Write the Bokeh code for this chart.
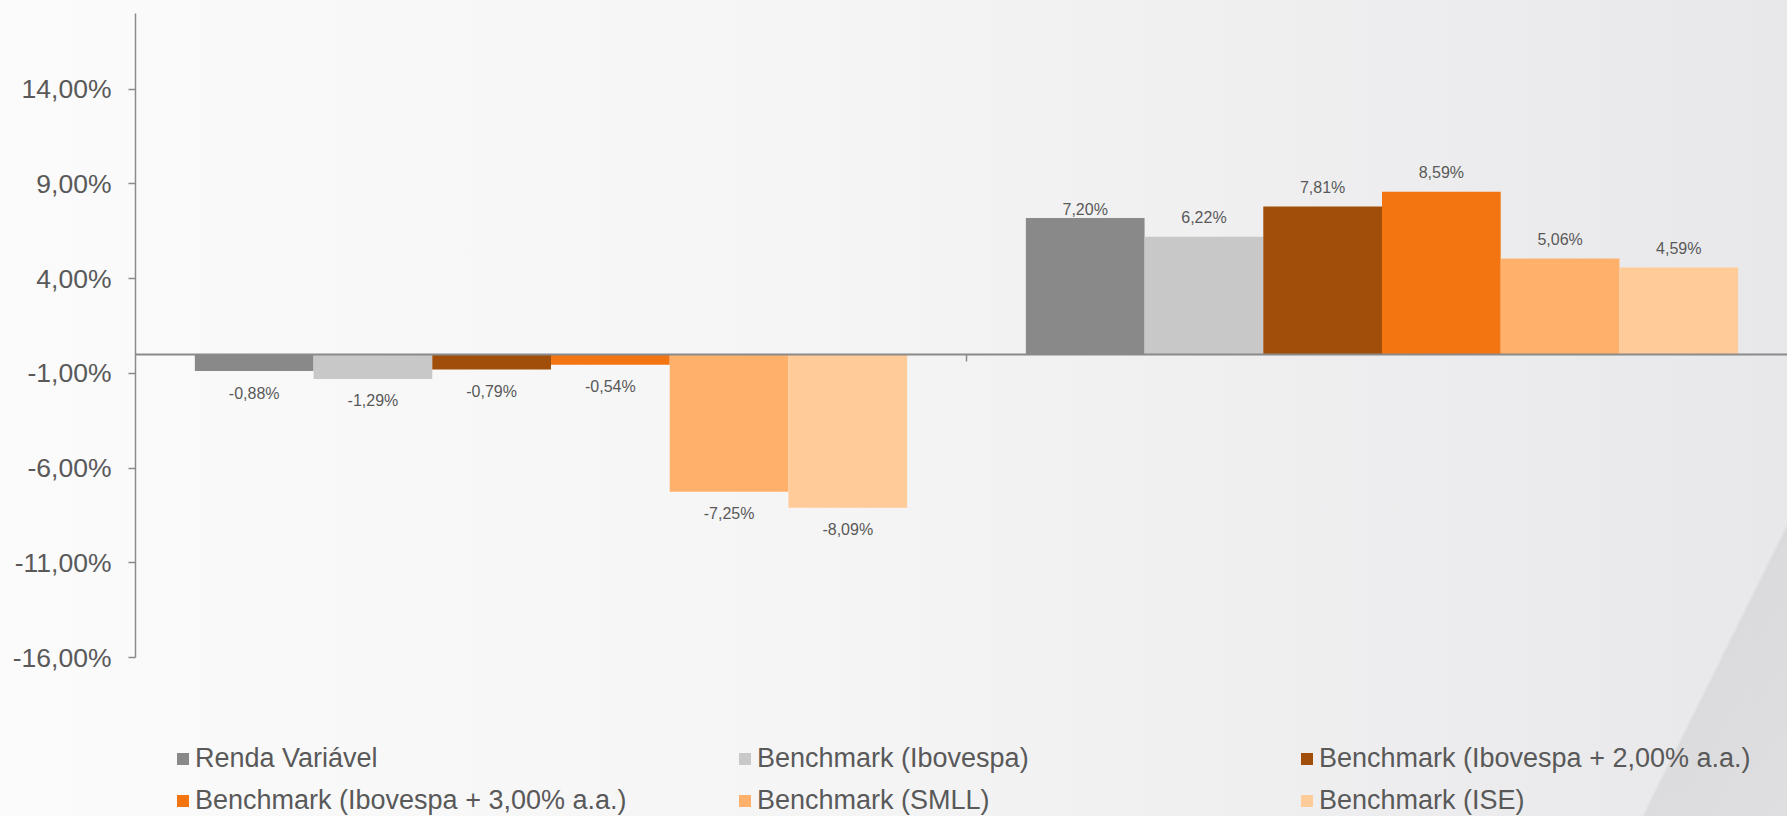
from bokeh.plotting import figure
from bokeh.models import (ColumnDataSource, Range1d, FixedTicker, Span, Legend,
                          LegendItem)
from bokeh.core.properties import value
from bokeh.embed import file_html
from bokeh.resources import INLINE

# ---------------- data ----------------
groups = ["Período 1", "Período 2"]
series = ["Renda Variável", "Benchmark (Ibovespa)",
          "Benchmark (Ibovespa + 2,00% a.a.)", "Benchmark (Ibovespa + 3,00% a.a.)",
          "Benchmark (SMLL)", "Benchmark (ISE)"]
values_g1 = [-0.88, -1.29, -0.79, -0.54, -7.25, -8.09]
values_g2 = [7.20, 6.22, 7.81, 8.59, 5.06, 4.59]
y_ticks = [-16, -11, -6, -1, 4, 9, 14]

# ---------------- style ----------------
colors = ["#898989", "#C8C8C8", "#A14E0B", "#F37512", "#FFB16B", "#FFCB99"]
FONT = "Liberation Sans"
TXT = "#595959"
AXC = "#8A8A8A"
label_nudge = {(1, 0): 10}   # one label sits closer to its bar in the original

W, H = 1787, 816
FRAME_LEFT, FRAME_TOP = 135, 13
frame_w = W - FRAME_LEFT
frame_h = H - FRAME_TOP
cat_px = 831.0
axis_top, axis_bottom = 18, -16
axis_px = 644.0
px_per_unit = axis_px / (axis_top - axis_bottom)
ymax = axis_top
ymin = axis_top - frame_h / px_per_unit

p = figure(width=W, height=H, output_backend="svg", toolbar_location=None,
           x_range=Range1d(0, frame_w / cat_px), y_range=Range1d(ymin, ymax),
           min_border_left=FRAME_LEFT, min_border_right=0,
           min_border_top=FRAME_TOP, min_border_bottom=0)
p.background_fill_alpha = 0
p.border_fill_alpha = 0
p.outline_line_color = None
p.grid.visible = False
p.xaxis.visible = False
p.styles = {"background": "linear-gradient(116.4deg, rgba(0,0,0,0) 93.35%, rgba(0,0,0,0.06) 93.5%, rgba(0,0,0,0.04) 100%), linear-gradient(to right, #FBFBFB 0%, #F5F5F6 45%, #E8E8EA 100%)"}

yax = p.yaxis[0]
yax.bounds = (axis_bottom, axis_top)
yax.ticker = FixedTicker(ticks=y_ticks)
yax.major_label_overrides = {t: ("%.2f" % t).replace(".", ",") + "%" for t in y_ticks}
yax.major_label_text_font = FONT
yax.major_label_text_font_size = "26.5px"
yax.major_label_text_color = TXT
yax.axis_line_color = AXC
yax.axis_line_width = 1.5
yax.major_tick_line_color = AXC
yax.major_tick_line_width = 1.5
yax.major_tick_in = 0
yax.major_tick_out = 7
yax.minor_tick_line_color = None
yax.major_label_standoff = 17

# zero line
p.add_layout(Span(location=0, dimension="width", line_color=AXC, line_width=2))

# category boundary ticks below the zero line
bounds = list(range(1, len(groups)))
p.segment(x0=bounds, x1=bounds, y0=[0] * len(bounds),
          y1=[-7 / px_per_unit] * len(bounds), line_color=AXC, line_width=1.5)

n = len(series)
bw = 1.0 / (n + 1)
all_vals = [values_g1, values_g2]
renderers = []
for j, name in enumerate(series):
    xs = [g + 0.5 + (j - (n - 1) / 2) * bw for g in range(len(groups))]
    ys = [all_vals[g][j] for g in range(len(groups))]
    src = ColumnDataSource(dict(x=xs, top=ys))
    r = p.vbar(x="x", top="top", bottom=0, width=bw, source=src,
               fill_color=colors[j], line_color=None)
    renderers.append(r)

# data labels
lx, ly, lt, loff = [], [], [], []
for g in range(len(groups)):
    for j in range(n):
        v = all_vals[g][j]
        lx.append(g + 0.5 + (j - (n - 1) / 2) * bw)
        ly.append(v)
        lt.append(("%.2f" % v).replace(".", ",") + "%")
        off = -19 if v >= 0 else 22
        off += label_nudge.get((g, j), 0)
        loff.append(off)
lsrc = ColumnDataSource(dict(x=lx, y=ly, t=lt, off=loff))
p.text(x="x", y="y", text="t", y_offset="off", source=lsrc,
       text_font=value(FONT), text_font_size="16px", text_color=TXT,
       text_align="center", text_baseline="alphabetic")

legend = Legend(items=[LegendItem(label=s, renderers=[r]) for s, r in zip(series, renderers)],
                location=(40, 0), orientation="horizontal", ncols=3,
                label_text_font=FONT, label_text_font_size="27px",
                label_text_color=TXT, glyph_width=15, glyph_height=15,
                label_standoff=5, label_width=531, label_height=31,
                spacing=11, padding=0, margin=0,
                border_line_color=None, background_fill_alpha=0)
p.add_layout(legend, "center")

html = file_html(p, INLINE)
open("out.html", "w").write(html)
